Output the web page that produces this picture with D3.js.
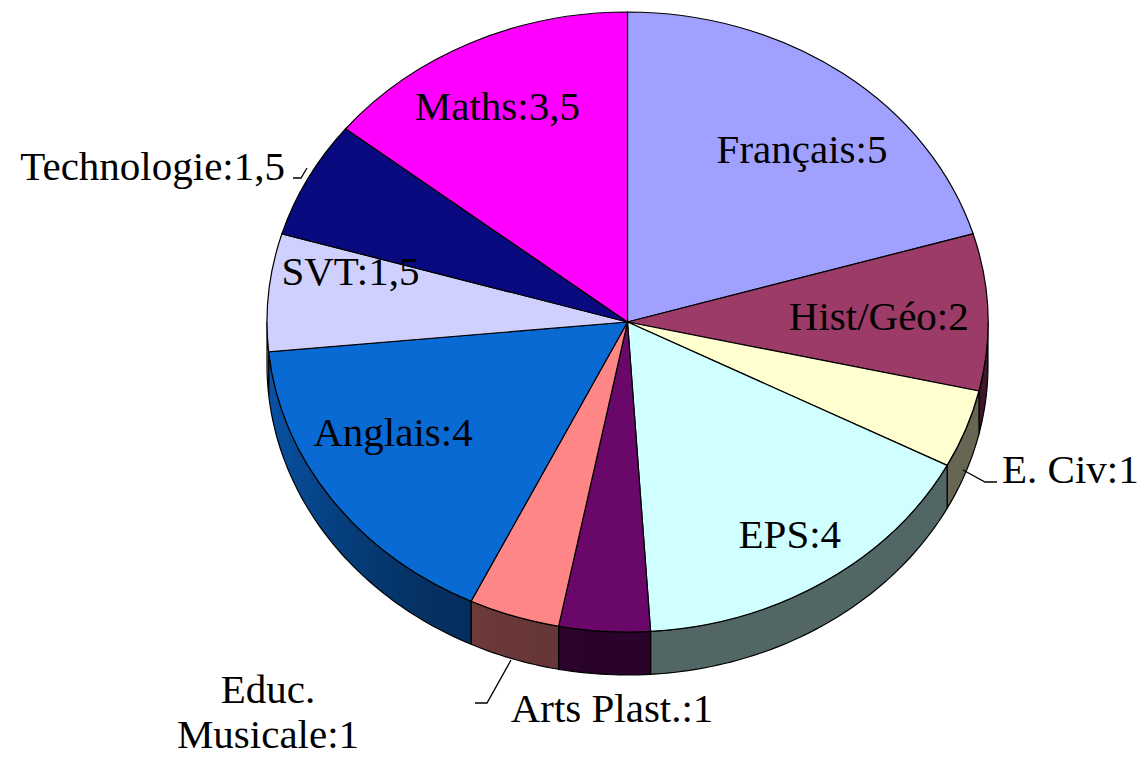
<!DOCTYPE html>
<html>
<head>
<meta charset="utf-8">
<script src="https://cdn.jsdelivr.net/npm/d3@7"></script>
<style>
  body { margin: 0; background: #fff; }
  text { font-family: "Liberation Serif", "Times New Roman", serif; font-size: 41px; fill: #000; }
</style>
</head>
<body>
<div id="chart-area"></div>
<script>
'use strict';

// hours per subject, clockwise from 12 o'clock
let subjects = ['Français', 'Hist/Géo', 'E. Civ', 'EPS', 'Arts Plast.', 'Educ. Musicale', 'Anglais', 'SVT', 'Technologie', 'Maths'];
let hours = [5, 2, 1, 4, 1, 1, 4, 1.5, 1.5, 3.5];
let colours = ['#a0a0ff', '#9c3a68', '#ffffd0', '#d0ffff', '#6a086a', '#ff8686', '#0a6ad4', '#d0d0ff', '#0a0a80', '#ff00ff'];

const W = 1141, H = 757;
const cx = 627.5, cy = 322, rx = 360.5, ry = 310, depth = 43;

// label placement tweaks (inside labels: offset from centroid; outside: fixed spot)
const nudge = {
    'Français': [2, 26], 'Hist/Géo': [-37, 2], 'EPS': [5, 4],
    'Anglais': [2, -32], 'SVT': [10, -27], 'Maths': [-5, 7]
};
const outside = {
    'E. Civ': { x: 1002, y: 483, anchor: 'start', leader: [[963, 470], [985, 482], [997, 482]] },
    'Arts Plast.': { x: 612, y: 722, anchor: 'middle', leader: null },
    'Educ. Musicale': { x: 268, y: 703, anchor: 'middle', lines: true, leader: [[511, 660], [487, 703], [475, 703]] },
    'Technologie': { x: 285, y: 180, anchor: 'end', leader: [[293, 178], [301, 178], [307, 168]] }
};

function fmt(v) {
    return String(v).replace('.', ',');
}

function pt(a, dz) {
    return [cx + rx * Math.sin(a), cy - ry * Math.cos(a) + dz];
}

function shade(col, a) {
    let k = Math.max(0, Math.cos(a - 1.5 * Math.PI));
    let f = 0.4 + 0.38 * Math.pow(k, 3);
    let c = d3.rgb(col);
    return d3.rgb(c.r * f, c.g * f, c.b * f).toString();
}

let svg = d3.select('#chart-area').append('svg')
    .attr('width', W)
    .attr('height', H);
let defs = svg.append('defs');

let pie = d3.pie()
    .sort(null)
    .value((d) => d.value);

let slices = pie(subjects.map((s, i) => ({ name: s, value: hours[i], colour: colours[i] })));

// side walls (front half only), shaded with a horizontal gradient
let wall = svg.append('g');
let line = d3.line();
slices.forEach((s, i) => {
    let a0 = Math.max(s.startAngle, Math.PI / 2);
    let a1 = Math.min(s.endAngle, 1.5 * Math.PI);
    if (a0 >= a1) return;
    let n = Math.max(2, Math.ceil((a1 - a0) / (Math.PI / 180)));
    let angles = d3.range(n + 1).map((j) => a0 + (a1 - a0) * j / n);
    let x1 = pt(a0, 0)[0], x2 = pt(a1, 0)[0];
    let grad = defs.append('linearGradient')
        .attr('id', 'wall' + i)
        .attr('gradientUnits', 'userSpaceOnUse')
        .attr('x1', x1).attr('x2', x2)
        .attr('y1', 0).attr('y2', 0);
    angles.forEach((a) => {
        grad.append('stop')
            .attr('offset', Math.abs(x2 - x1) < 0.01 ? 0 : (pt(a, 0)[0] - x1) / (x2 - x1))
            .attr('stop-color', shade(s.data.colour, a));
    });
    let pts = angles.map((a) => pt(a, 0))
        .concat(angles.slice().reverse().map((a) => pt(a, depth)));
    wall.append('path')
        .attr('d', line(pts) + 'Z')
        .attr('fill', `url(#wall${i})`)
        .attr('stroke', '#000')
        .attr('stroke-width', 1.2)
        .attr('stroke-linejoin', 'round');
});

// top face
let arc = d3.arc()
    .innerRadius(0)
    .outerRadius(rx);

svg.append('g')
    .attr('transform', `translate(${cx},${cy}) scale(1,${ry / rx})`)
    .selectAll('path')
    .data(slices)
    .enter()
    .append('path')
        .attr('d', arc)
        .attr('fill', (d) => d.data.colour)
        .attr('stroke', '#000')
        .attr('stroke-width', 1.2)
        .attr('vector-effect', 'non-scaling-stroke');

// labels
let labelArc = d3.arc()
    .innerRadius(rx * 0.8)
    .outerRadius(rx * 0.8);

let labels = svg.append('g');
slices.forEach((s) => {
    let name = s.data.name;
    let txt = name + ':' + fmt(s.data.value);
    let o = outside[name];
    if (o) {
        if (o.leader) {
            labels.append('path')
                .attr('d', line(o.leader))
                .attr('fill', 'none')
                .attr('stroke', '#000')
                .attr('stroke-width', 1.3);
        }
        let t = labels.append('text')
            .attr('x', o.x)
            .attr('y', o.y)
            .attr('text-anchor', o.anchor);
        if (o.lines) {
            let parts = name.split(' ');
            t.append('tspan').attr('x', o.x).text(parts[0]);
            t.append('tspan').attr('x', o.x).attr('dy', 45).text(parts[1] + ':' + fmt(s.data.value));
        } else {
            t.text(txt);
        }
    } else {
        let c = labelArc.centroid(s);
        let nd = nudge[name] || [0, 0];
        labels.append('text')
            .attr('x', cx + c[0] + nd[0])
            .attr('y', cy + c[1] * ry / rx + nd[1] + 14)
            .attr('text-anchor', 'middle')
            .text(txt);
    }
});
</script>
</body>
</html>
